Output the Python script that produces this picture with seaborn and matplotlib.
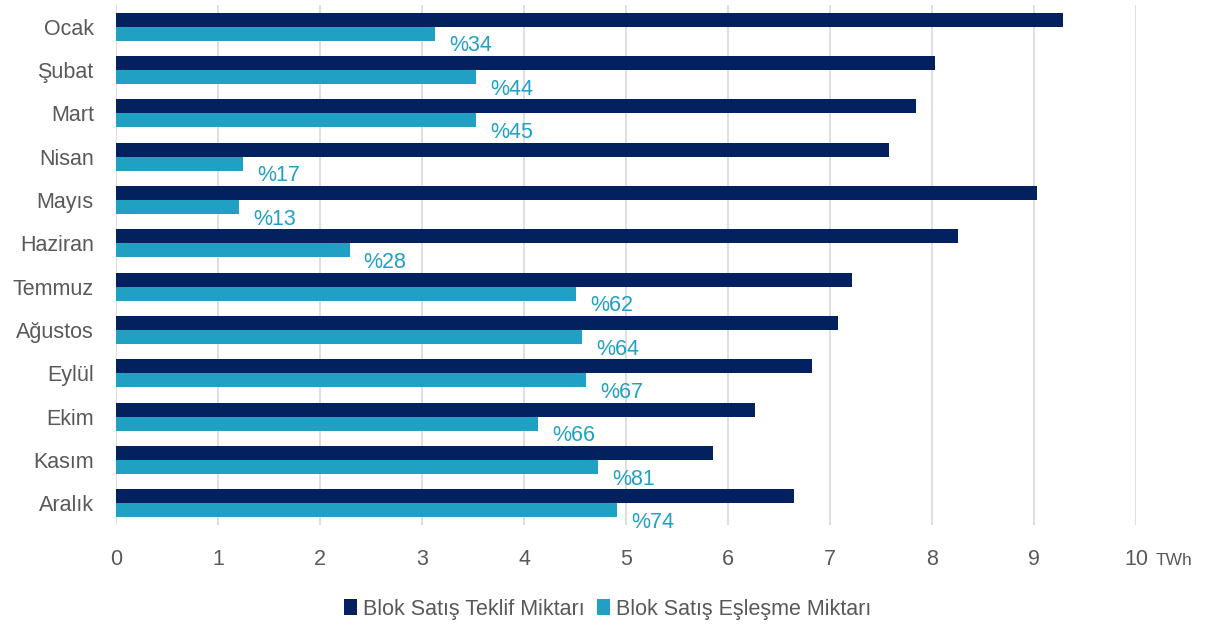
import matplotlib

matplotlib.use("Agg")
import matplotlib.pyplot as plt
import pandas as pd
import seaborn as sns

MONTHS = ["Ocak", "Şubat", "Mart", "Nisan", "Mayıs", "Haziran",
          "Temmuz", "Ağustos", "Eylül", "Ekim", "Kasım", "Aralık"]
OFFER = [9.28, 8.03, 7.84, 7.58, 9.03, 8.25, 7.22, 7.08, 6.82, 6.26, 5.85, 6.65]
MATCH = [3.13, 3.53, 3.53, 1.25, 1.21, 2.29, 4.51, 4.57, 4.61, 4.14, 4.73, 4.91]
RATIO = ["%34", "%44", "%45", "%17", "%13", "%28", "%62", "%64", "%67", "%66", "%81", "%74"]
SERIES = ["Blok Satış Teklif Miktarı", "Blok Satış Eşleşme Miktarı"]
PALETTE = {SERIES[0]: "#03205f", SERIES[1]: "#20a0c2"}
TEXT = "#595959"

df = pd.DataFrame({
    "month": MONTHS * 2,
    "value": OFFER + MATCH,
    "series": [SERIES[0]] * len(MONTHS) + [SERIES[1]] * len(MONTHS),
})

sns.set_theme(style="white")
plt.rcParams["font.family"] = ["Liberation Sans", "DejaVu Sans"]

fig = plt.figure(figsize=(12.07, 6.25), dpi=100)
ax = fig.add_axes([0.0961, 0.16, 0.8451, 0.832])
sns.barplot(data=df, x="value", y="month", hue="series", orient="h",
            palette=PALETTE, width=0.65, saturation=1, linewidth=0, ax=ax)

ax.set_xlim(0, 10)
ax.set_ylim(11.5, -0.5)
ax.set_xticks(range(11))
ax.grid(axis="x", color="#d9d9d9", linewidth=1.2)
ax.set_axisbelow(True)
for s in ax.spines.values():
    s.set_visible(False)
ax.set_xlabel("")
ax.set_ylabel("")
ax.tick_params(axis="both", length=0, labelcolor=TEXT, labelsize=15.5)
ax.tick_params(axis="x", pad=17)
ax.tick_params(axis="y", pad=16)

for i, (v, lab) in enumerate(zip(MATCH, RATIO)):
    ax.annotate(lab, xy=(v, i + 0.325), xytext=(14, -5), textcoords="offset pixels",
                ha="left", va="center", color=PALETTE[SERIES[1]], fontsize=15.5)

ax.annotate("TWh", xy=(10, 0), xycoords=("data", "axes fraction"), xytext=(20, -40),
            textcoords="offset pixels", ha="left", va="baseline", color=TEXT, fontsize=12.5)

ax.legend(loc="center", bbox_to_anchor=(0.482, -0.162), ncol=2, frameon=False,
          handlelength=0.6, handleheight=0.8, handletextpad=0.25, columnspacing=0.6,
          fontsize=15.5, labelcolor=TEXT)

fig.savefig("out.png", dpi=100)
